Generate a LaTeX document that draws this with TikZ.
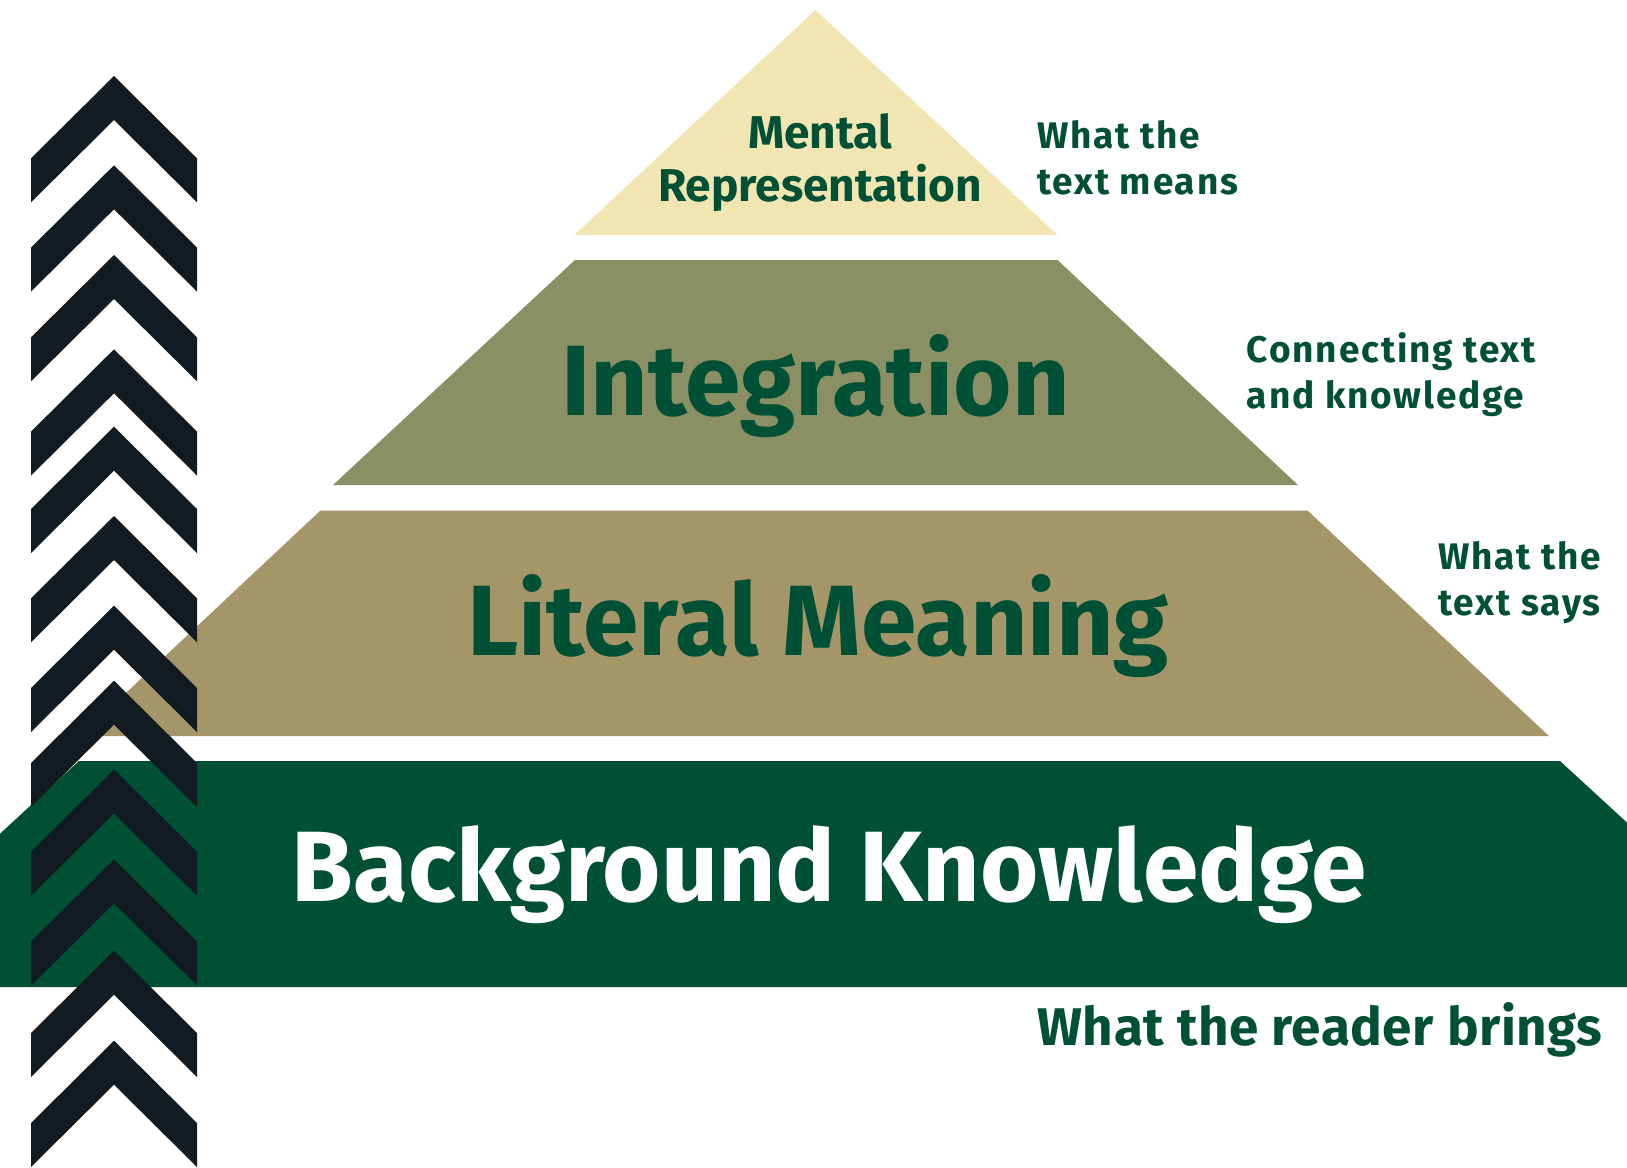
\documentclass[tikz,border=0pt]{standalone}
\usepackage{fontspec}
\setmainfont{Fira Sans}
\newfontfamily\sidefont{Fira Sans}[LetterSpace=5]
\usepackage{tikz}
\definecolor{creamfill}{RGB}{241, 229, 178}
\definecolor{sagefill}{RGB}{138, 143, 100}
\definecolor{tanfill}{RGB}{164, 150, 104}
\definecolor{forest}{RGB}{0, 80, 53}
\definecolor{inkblue}{RGB}{18, 26, 34}
\tikzset{%
    chevron/.pic={%
        code{%
            \fill[inkblue] (0, 0) -- (-83, 82.3) -- (-83, 126.3) -- (0, 44)
                -- (83, 126.3) -- (83, 82.3) -- cycle;
        }
    },
    bandlabel/.style={font=\bfseries\fontsize{100}{100}\selectfont, text=forest,
        inner sep=0pt, anchor=base},
    sidelabel/.style={font=\sidefont\bfseries\fontsize{37}{46}\selectfont, text=forest,
        inner sep=0pt, anchor=base west}
}

\begin{document}
\begin{tikzpicture}[x=1pt, y=-1pt]

    \useasboundingbox[fill=white] (0, 0) rectangle (1627, 1167);

    % The four layers
    \fill[creamfill] (815.5, 10) -- (1057.5, 235) -- (574.5, 235) -- cycle;
    \fill[sagefill] (575, 260) -- (1057.5, 260) -- (1298, 485) -- (333, 485) -- cycle;
    \fill[tanfill] (320.5, 510.5) -- (1307.5, 510.5) -- (1549, 736) -- (80, 736) -- cycle;
    \fill[forest] (79, 761) -- (1560, 761) -- (1627, 822.6) -- (1627, 987)
        -- (0, 987) -- (0, 833.7) -- cycle;

    % Layer names
    \node[font=\bfseries\fontsize{46}{53}\selectfont, text=forest, inner sep=0pt,
        anchor=base] (mental) at (820, 148) {%
        \begin{tabular}[t]{@{}c@{}}
            Mental\\
            Representation
        \end{tabular}
    };
    \node[bandlabel] (integration) at (815.5, 415) {Integration};
    \node[bandlabel] (literal) at (818, 655) {Literal Meaning};
    \node[bandlabel, text=white] (background) at (829, 901.7) {Background Knowledge};

    % What each layer stands for
    \node[sidelabel] (means) at (1036.8, 148.3) {%
        \begin{tabular}[t]{@{}l@{}}
            What the\\
            text means
        \end{tabular}
    };
    \node[sidelabel] (connecting) at (1246.7, 362.3) {%
        \begin{tabular}[t]{@{}l@{}}
            Connecting text\\
            and knowledge
        \end{tabular}
    };
    \node[sidelabel] (says) at (1438, 569.3) {%
        \begin{tabular}[t]{@{}l@{}}
            What the\\
            text says
        \end{tabular}
    };
    \node[sidelabel, font=\bfseries\fontsize{53}{60}\selectfont\addfontfeatures{LetterSpace=1}]
        (brings) at (1037.3, 1045) {What the reader brings};

    % Chevrons going up
    \foreach \apex in {76, 165.3, 255, 349.3, 426.7, 516, 605.7, 680.7,
                       769.5, 859.3, 950.7, 1040.7}{%
        \path (114, \apex) pic {chevron};
    };

\end{tikzpicture}
\end{document}
